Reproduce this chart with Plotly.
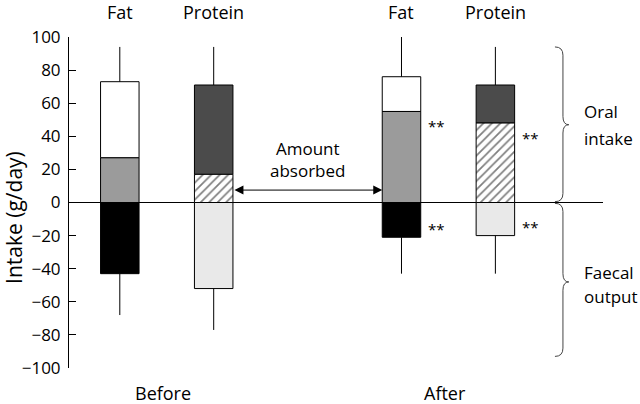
import plotly.graph_objects as go

# ---- data ----
groups = ["Before", "After"]
nutrients = ["Fat", "Protein"]
bar_group = [0, 0, 1, 1]          # index into groups
bar_nutrient = [0, 1, 0, 1]       # index into nutrients
intake = [73, 71, 76, 71]         # oral intake (top of bar)
absorbed = [27, 17, 55, 48]       # amount absorbed (0 -> value)
faecal = [-43, -52, -21, -20]     # faecal output (negative)
err_top = [94, 94, 101, 94]       # end of upper error line
err_bottom = [-68, -77, -43, -43] # end of lower error line
signif_upper = ["", "", "**", "**"]
signif_lower = ["", "", "**", "**"]

FONT = "Open Sans"
BW = 0.41
pos = [g * 3 + n for g, n in zip(bar_group, bar_nutrient)]

fig = go.Figure()

seg_styles = {
    # nutrient: (unabsorbed colour, absorbed colour, absorbed pattern, faecal colour)
    0: ("#ffffff", "#9b9b9b", None, "#000000"),
    1: ("#4b4b4b", "#ffffff", "/", "#e9e9e9"),
}

for n in (0, 1):
    idx = [i for i in range(4) if bar_nutrient[i] == n]
    xs = [pos[i] for i in idx]
    unab_c, ab_c, ab_pat, fae_c = seg_styles[n]
    line = dict(color="black", width=1)
    fig.add_trace(go.Bar(
        x=xs, y=[intake[i] - absorbed[i] for i in idx], base=[absorbed[i] for i in idx],
        width=BW, marker=dict(color=unab_c, line=line), showlegend=False, hoverinfo="skip"))
    pattern = dict(shape=ab_pat, fgcolor="black", bgcolor="white", size=6, solidity=0.28) if ab_pat else None
    fig.add_trace(go.Bar(
        x=xs, y=[absorbed[i] for i in idx], base=[0] * len(idx),
        width=BW, marker=dict(color=ab_c, line=line, pattern=pattern),
        showlegend=False, hoverinfo="skip"))
    fig.add_trace(go.Bar(
        x=xs, y=[faecal[i] for i in idx], base=[0] * len(idx),
        width=BW, marker=dict(color=fae_c, line=line), showlegend=False, hoverinfo="skip"))

# error lines
ex, ey = [], []
for i in range(4):
    ex += [pos[i], pos[i], None, pos[i], pos[i], None]
    ey += [intake[i], err_top[i], None, faecal[i], err_bottom[i], None]
fig.add_trace(go.Scatter(x=ex, y=ey, mode="lines", line=dict(color="black", width=1),
                         showlegend=False, hoverinfo="skip"))

TXT = dict(size=18, family=FONT, color="black")
SIDE = dict(size=17, family=FONT, color="black")
ann = []
for i in range(4):
    ann.append(dict(x=pos[i], y=1.0755, xref="x", yref="paper", text=nutrients[bar_nutrient[i]],
                    showarrow=False, font=TXT, yanchor="middle"))
for g, name in enumerate(groups):
    ann.append(dict(x=g * 3 + 0.46, y=-0.0755, xref="x", yref="paper", text=name,
                    showarrow=False, font=TXT, yanchor="middle"))
STAR = dict(size=15, family=FONT, color="black")
for i in range(4):
    if signif_upper[i]:
        ann.append(dict(x=pos[i] + BW / 2 + 0.06, y=absorbed[i] - 9, xref="x", yref="y",
                        text=signif_upper[i], showarrow=False, xanchor="left", font=STAR))
    if signif_lower[i]:
        ann.append(dict(x=pos[i] + BW / 2 + 0.06, y=faecal[i] + 5, xref="x", yref="y",
                        text=signif_lower[i], showarrow=False, xanchor="left", font=STAR))
# amount absorbed arrow
ann.append(dict(x=pos[2] - BW / 2, y=7.5, ax=pos[1] + BW / 2, ay=7.5, xref="x", yref="y",
                axref="x", ayref="y", text="", showarrow=True, arrowhead=2, startarrowhead=2,
                arrowside="end+start", arrowsize=1.8, startarrowsize=1.8, arrowwidth=1,
                arrowcolor="black"))
mid = (pos[1] + pos[2]) / 2
ann.append(dict(x=mid, y=25.7, xref="x", yref="y", text="Amount<br>absorbed", showarrow=False,
                font=SIDE))
for txt, yv in [("Oral", 55), ("intake", 38.5), ("Faecal", -42), ("output", -57)]:
    ann.append(dict(x=0.961, y=yv, xref="paper", yref="y", text=txt, showarrow=False,
                    xanchor="left", font=SIDE))
ann.append(dict(x=-0.102, y=-9, xref="paper", yref="y", text="Intake (g/day)", xanchor="center",
                textangle=-90, showarrow=False, font=dict(size=21, family=FONT, color="black")))


def brace(x_v, x_curl, x_tip, y_top, y_mid, y_bot, r=5):
    return (f"M {x_curl} {y_top} Q {x_v} {y_top} {x_v} {y_top - r} "
            f"L {x_v} {y_mid + r} Q {x_v} {y_mid} {x_tip} {y_mid} "
            f"Q {x_v} {y_mid} {x_v} {y_mid - r} "
            f"L {x_v} {y_bot + r} Q {x_v} {y_bot} {x_curl} {y_bot}")


shapes = [
    dict(type="path", xref="paper", yref="y", path=brace(0.925, 0.910, 0.936, 94, 47, 0.5),
         line=dict(color="#444", width=1)),
    dict(type="path", xref="paper", yref="y", path=brace(0.925, 0.910, 0.936, -0.5, -48, -93),
         line=dict(color="#444", width=1)),
]

fig.update_layout(
    width=640, height=404, barmode="overlay",
    margin=dict(l=69, r=37, t=37, b=36),
    paper_bgcolor="white", plot_bgcolor="white",
    font=dict(family=FONT, size=17, color="black"),
    annotations=ann, shapes=shapes,
    xaxis=dict(visible=False, range=[-0.541, 5.146]),
    yaxis=dict(range=[-100, 100], tickvals=list(range(-100, 101, 20)),
               ticktext=[str(v).replace("-", "\u2212") for v in range(-100, 101, 20)],
               ticks="inside", ticklen=7, tickcolor="black", showline=True, linecolor="black",
               linewidth=1, showgrid=False, zeroline=True, zerolinecolor="black", zerolinewidth=1,
               tickfont=dict(size=17, family=FONT), ticklabelstandoff=4),
)

fig.write_html("out.html", config={"displayModeBar": False},
               post_script="document.body.style.margin='0';")
